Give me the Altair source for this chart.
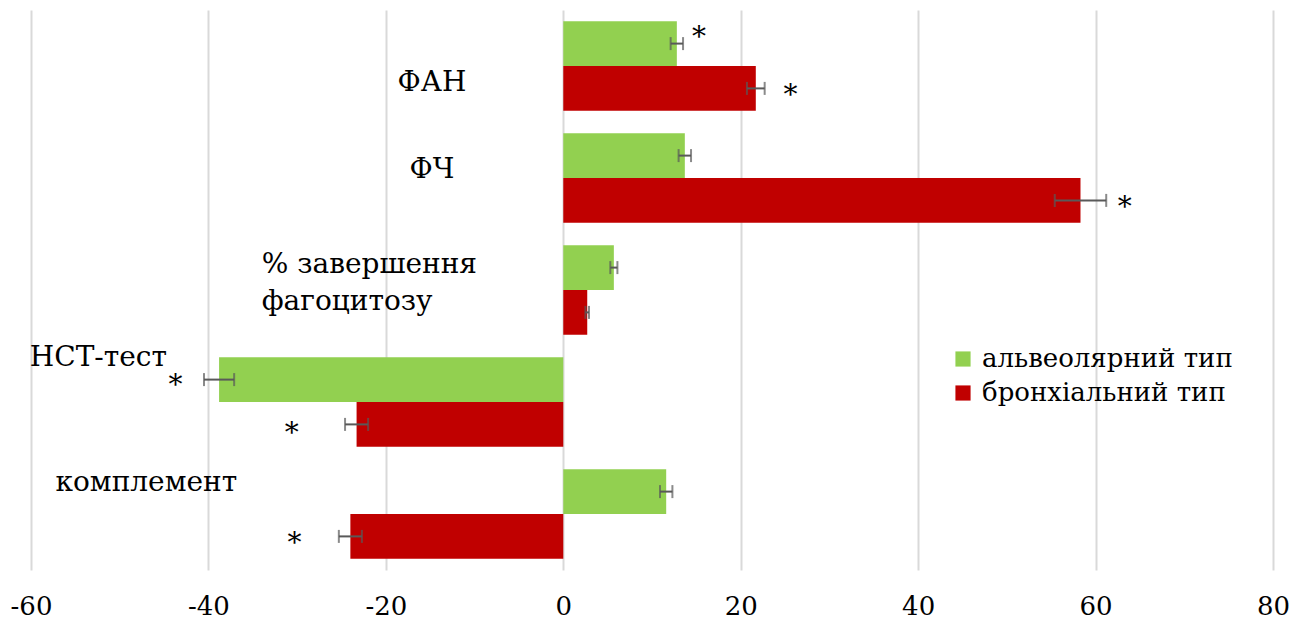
import altair as alt
import pandas as pd

categories = ["ФАН", "ФЧ", "% завершення фагоцитозу", "НСТ-тест", "комплемент"]
series_names = ["альвеолярний тип", "бронхіальний тип"]
alveolar = [12.8, 13.7, 5.7, -38.8, 11.6]
bronchial = [21.7, 58.3, 2.7, -23.3, -24.0]
alveolar_err = [0.7, 0.7, 0.4, 1.7, 0.7]
bronchial_err = [1.0, 2.9, 0.2, 1.3, 1.3]

# category annotations drawn inside the plot (text, x in data units, vertical shift)
label_text = ["ФАН", "ФЧ", "% завершення\nфагоцитозу", "НСТ-тест", "комплемент"]
label_x = [-14.8, -14.8, -34.0, -52.4, -47.0]
label_align = ["center", "center", "left", "center", "center"]
label_dy = [17, -8, -25, -44, -31]

# significance stars
star_cat = ["ФАН", "ФАН", "ФЧ", "НСТ-тест", "НСТ-тест", "комплемент"]
star_series = ["альвеолярний тип", "бронхіальний тип", "бронхіальний тип",
               "альвеолярний тип", "бронхіальний тип", "бронхіальний тип"]
star_x = [15.3, 25.6, 63.3, -43.7, -30.6, -30.3]
star_dy = [-6, 8, 8, 6, 10, 8]

colors = ["#92D050", "#C00000"]
FONT = "DejaVu Serif"

rows = []
for i, c in enumerate(categories):
    for s, vals, errs in ((series_names[0], alveolar, alveolar_err),
                          (series_names[1], bronchial, bronchial_err)):
        v, e = vals[i], errs[i]
        rows.append({"cat": c, "series": s, "value": v, "lo": v - e, "hi": v + e})
df = pd.DataFrame(rows)

y_enc = alt.Y("cat:N", sort=categories, axis=None,
              scale=alt.Scale(paddingInner=0.2, paddingOuter=0.1))
yoff_enc = alt.YOffset("series:N", sort=series_names, scale=alt.Scale(paddingInner=0, paddingOuter=0))
x_scale = alt.Scale(domain=[-60, 80], nice=False, zero=False)

base = alt.Chart(df)

bars = base.mark_bar().encode(
    x=alt.X("value:Q", scale=x_scale, title=None,
            axis=alt.Axis(values=[-60, -40, -20, 0, 20, 40, 60, 80], domain=False, ticks=False,
                          grid=True, gridColor="#D9D9D9", gridWidth=2,
                          labelFont=FONT, labelFontSize=26, labelColor="#000000",
                          labelFlush=False, labelExpr="'' + datum.value",
                          labelPadding=23)),
    y=y_enc,
    yOffset=yoff_enc,
    color=alt.Color("series:N", sort=series_names,
                    scale=alt.Scale(domain=series_names, range=colors),
                    legend=alt.Legend(title=None, orient="none", legendX=919, legendY=336,
                                      symbolType="square", symbolSize=230, symbolStrokeWidth=0,
                                      labelFont=FONT, labelFontSize=26, labelColor="#000000",
                                      rowPadding=8, labelLimit=400, labelOffset=6)),
)

err_line = base.mark_rule(color="#595959", strokeWidth=2).encode(
    x="lo:Q", x2="hi:Q", y=y_enc, yOffset=yoff_enc)
cap_lo = base.mark_tick(color="#595959", thickness=2, size=13).encode(
    x="lo:Q", y=y_enc, yOffset=yoff_enc)
cap_hi = base.mark_tick(color="#595959", thickness=2, size=13).encode(
    x="hi:Q", y=y_enc, yOffset=yoff_enc)

layers = [bars, err_line, cap_lo, cap_hi]

for t, lx, al, dy, c in zip(label_text, label_x, label_align, label_dy, categories):
    ldf = pd.DataFrame({"cat": [c], "x": [lx], "t": [t]})
    layers.append(
        alt.Chart(ldf).mark_text(font=FONT, fontSize=28, align=al, baseline="middle",
                                 dy=dy, lineBreak="\n", lineHeight=37, color="#000000")
        .encode(x="x:Q", y=y_enc, text="t:N")
    )

for c, s, sx, sdy in zip(star_cat, star_series, star_x, star_dy):
    sdf = pd.DataFrame({"cat": [c], "series": [s], "x": [sx]})
    layers.append(
        alt.Chart(sdf).mark_text(text="*", font=FONT, fontSize=28, align="center",
                                 baseline="middle", dy=sdy, color="#000000")
        .encode(x="x:Q", y=y_enc, yOffset=yoff_enc)
    )

chart = alt.layer(*layers).properties(
    width=1242, height=560, padding={"left": 2, "top": 2, "right": 5, "bottom": 5}
).configure_view(stroke=None)

chart.save("out.html", embed_options={"renderer": "svg", "actions": False})
